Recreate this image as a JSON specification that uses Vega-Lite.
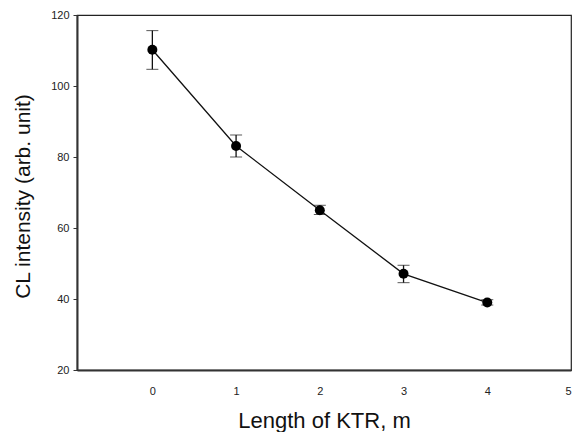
{
  "$schema": "https://vega.github.io/schema/vega-lite/v6.json",
  "width": 494,
  "height": 355,
  "autosize": {"type": "none"},
  "padding": {"left": 77, "top": 15, "right": 2, "bottom": 62},
  "background": "white",
  "config": {
    "font": "Liberation Sans",
    "view": {"stroke": "#222", "strokeWidth": 1.2}
  },
  "data": {
    "values": [
      {"x": 0, "y": 110.2, "lo": 104.7, "hi": 115.6},
      {"x": 1, "y": 83.1, "lo": 80.0, "hi": 86.2},
      {"x": 2, "y": 65.0, "lo": 63.8, "hi": 66.4},
      {"x": 3, "y": 47.1, "lo": 44.6, "hi": 49.5},
      {"x": 4, "y": 39.0, "lo": 38.3, "hi": 39.8}
    ]
  },
  "encoding": {
    "x": {
      "field": "x", "type": "quantitative",
      "scale": {"domain": [-0.9, 5], "nice": false, "zero": false},
      "axis": {
        "values": [0, 1, 2, 3, 4, 5], "title": "Length of KTR, m",
        "grid": false, "ticks": false, "domainColor": "#333", "domainWidth": 2,
        "labelFontSize": 11, "labelPadding": 15, "labelColor": "#222",
        "titleFontSize": 22, "titleFontWeight": "normal", "titlePadding": 14, "titleColor": "#111"
      }
    },
    "y": {
      "field": "y", "type": "quantitative",
      "scale": {"domain": [20, 120], "nice": false, "zero": false},
      "axis": {
        "values": [20, 40, 60, 80, 100, 120], "title": "CL intensity (arb. unit)",
        "grid": false, "tickSize": 4, "tickColor": "#333", "domainColor": "#333", "domainWidth": 2,
        "labelFontSize": 11, "labelPadding": 4, "labelColor": "#222",
        "titleFontSize": 21, "titleFontWeight": "normal", "titlePadding": 17, "titleColor": "#111", "titleY": 181
      }
    }
  },
  "layer": [
    {"mark": {"type": "line", "color": "#111", "strokeWidth": 1.3}},
    {
      "mark": {"type": "errorbar", "ticks": {"size": 12, "color": "#111", "strokeWidth": 1.3}, "rule": {"color": "#111", "strokeWidth": 1.3}},
      "encoding": {
        "y": {"field": "lo", "type": "quantitative"},
        "y2": {"field": "hi"}
      }
    },
    {"mark": {"type": "point", "filled": true, "shape": "circle", "size": 100, "color": "#000", "opacity": 1}}
  ]
}
